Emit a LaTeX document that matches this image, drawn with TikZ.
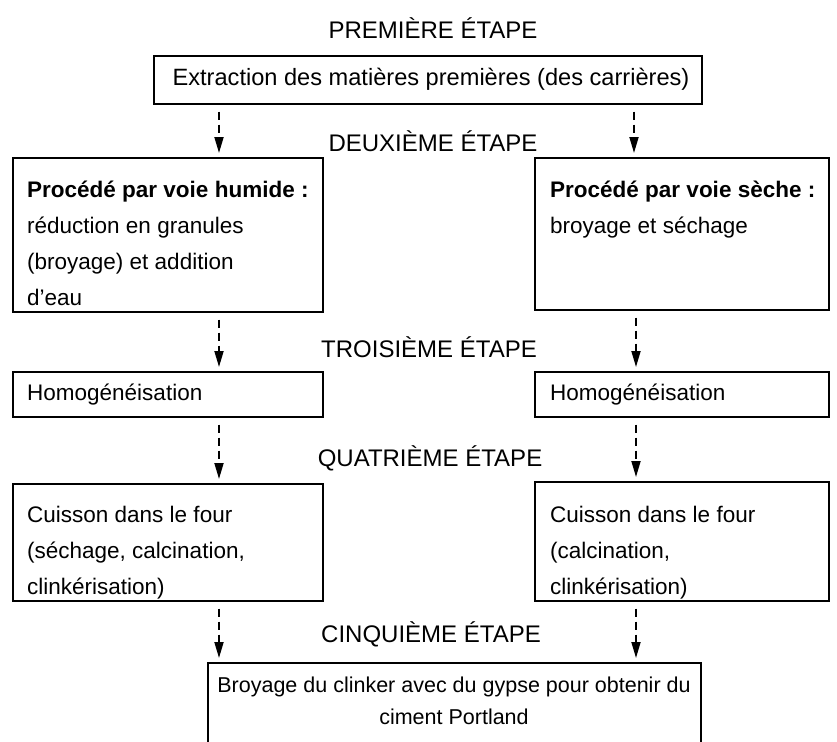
\documentclass[tikz,border=0pt]{standalone}
\usepackage{fontspec}
\setmainfont{Liberation Sans}
\usetikzlibrary{arrows.meta}
\begin{document}
\begin{tikzpicture}[x=1pt,y=-1pt,
  box/.style={draw,line width=1.6pt,anchor=north west,inner sep=0pt},
  txt/.style={anchor=north west,inner sep=0pt,align=left,font=\fontsize{22.5}{36}\selectfont},
  stage/.style={inner sep=0pt,font=\fontsize{24}{28}\selectfont},
  flow/.style={line width=1.8pt,dash pattern=on 8pt off 5pt,-{Triangle[length=16pt,width=9pt]},shorten <=7pt,shorten >=4pt}]
\useasboundingbox (0,0) rectangle (837,741);
% stage titles
\node[stage] (s1) at (433,28) {PREMIÈRE ÉTAPE};
\node[stage] (s2) at (433,141) {DEUXIÈME ÉTAPE};
\node[stage] (s3) at (429,347) {TROISIÈME ÉTAPE};
\node[stage] (s4) at (430,458) {QUATRIÈME ÉTAPE};
\node[stage] (s5) at (431,634) {CINQUIÈME ÉTAPE};
% boxes
\node[box,minimum width=548pt,minimum height=48pt] (b1) at (153,55) {};
\node[font=\fontsize{23.6}{28}\selectfont,inner sep=0pt] (t1) at (431,79) {Extraction des matières premières (des carrières)};
\node[box,minimum width=310pt,minimum height=154pt] (l2) at (12,157) {};
\node[txt] (tl2) at (27,181) {\textbf{Procédé par voie humide :}\\réduction en granules\\(broyage) et addition\\d’eau};
\node[box,minimum width=294pt,minimum height=152pt] (r2) at (534,157) {};
\node[txt] (tr2) at (550,181) {\textbf{Procédé par voie sèche :}\\broyage et séchage};
\node[box,minimum width=310pt,minimum height=45pt] (l3) at (12,371) {};
\node[txt] (tl3) at (27,384) {Homogénéisation};
\node[box,minimum width=294pt,minimum height=45pt] (r3) at (534,371) {};
\node[txt] (tr3) at (550,384) {Homogénéisation};
\node[box,minimum width=310pt,minimum height=117pt] (l4) at (12,483) {};
\node[txt] (tl4) at (27,506) {Cuisson dans le four\\(séchage, calcination,\\clinkérisation)};
\node[box,minimum width=294pt,minimum height=119pt] (r4) at (534,481) {};
\node[txt] (tr4) at (550,506) {Cuisson dans le four\\(calcination,\\clinkérisation)};
\node[box,minimum width=493pt,minimum height=100pt] (b5) at (207,662) {};
\node[txt,align=center,anchor=north,font=\fontsize{21.5}{32}\selectfont] (t5) at (454,677) {Broyage du clinker avec du gypse pour obtenir du\\ciment Portland};
% column x positions
\coordinate (lx) at (219,0);
\coordinate (rx) at (634,0);
\coordinate (rx2) at (636,0);
% arrows
\draw[flow] (b1.south -| lx) -- (l2.north -| lx);
\draw[flow] (b1.south -| rx) -- (r2.north -| rx);
\draw[flow] (l2.south -| lx) -- (l3.north -| lx);
\draw[flow] (r2.south -| rx2) -- (r3.north -| rx2);
\draw[flow] (l3.south -| lx) -- (l4.north -| lx);
\draw[flow] (r3.south -| rx2) -- (r4.north -| rx2);
\draw[flow] (l4.south -| lx) -- (b5.north -| lx);
\draw[flow] (r4.south -| rx2) -- (b5.north -| rx2);
\end{tikzpicture}
\end{document}
